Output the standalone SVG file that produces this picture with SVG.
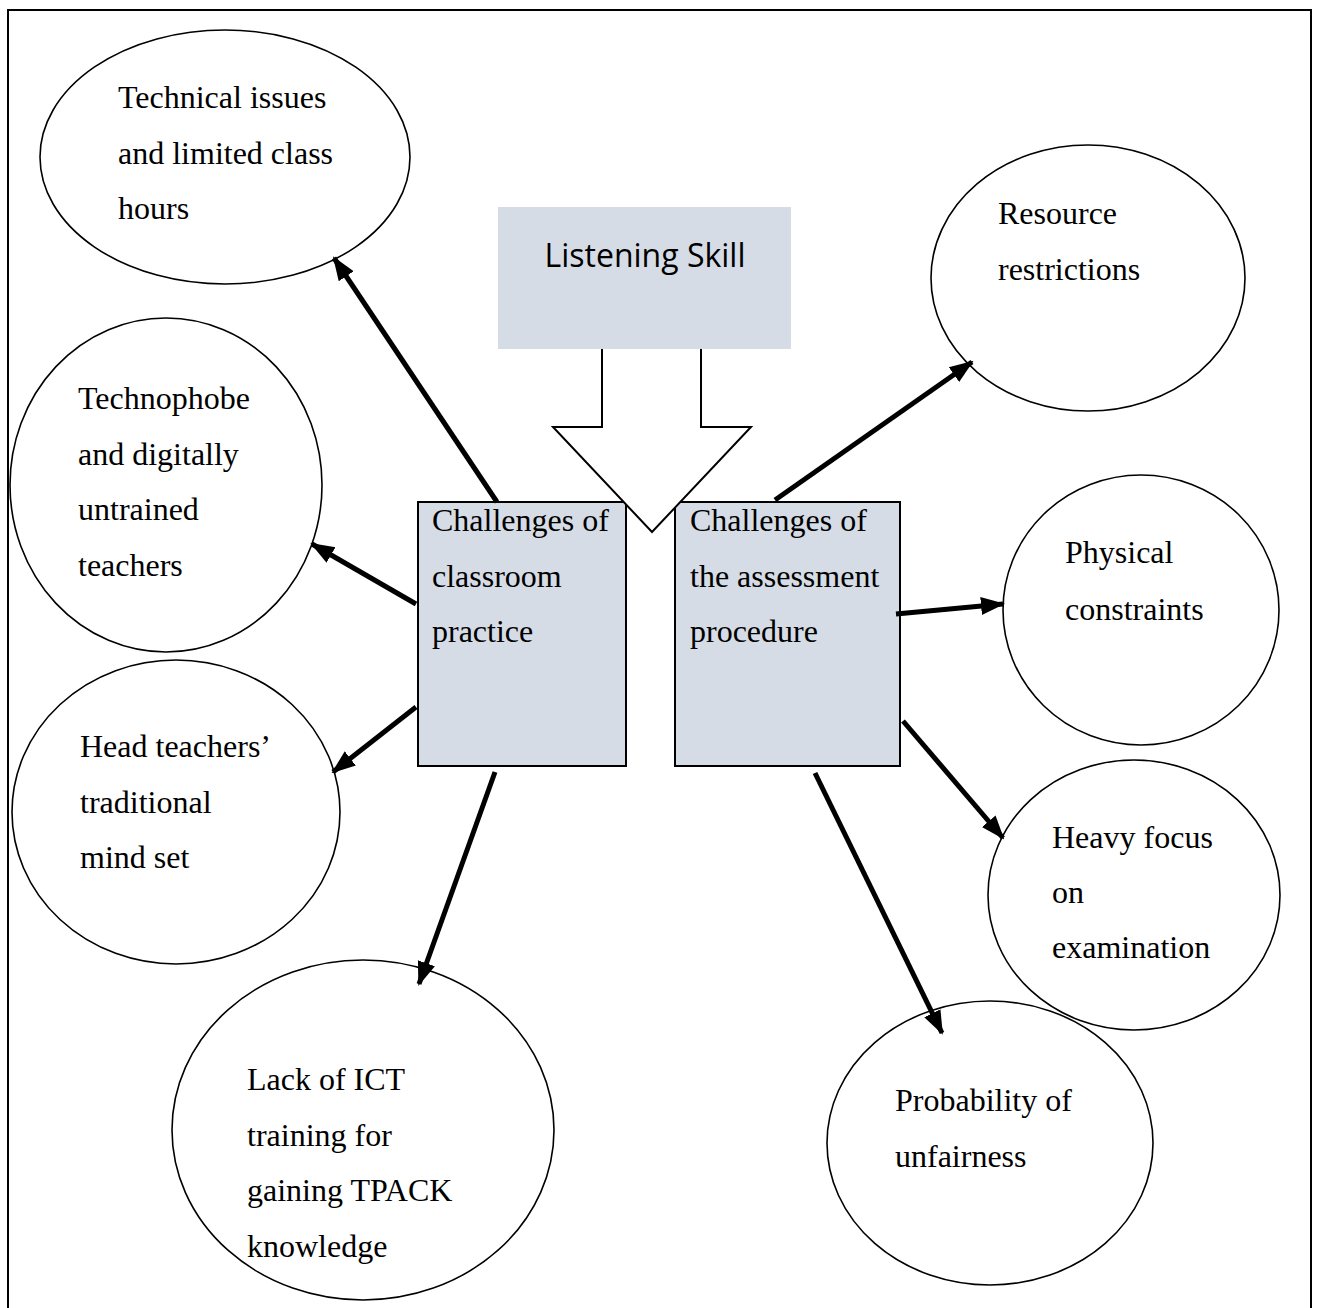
<svg xmlns="http://www.w3.org/2000/svg" width="1317" height="1308" viewBox="0 0 1317 1308">
<style>
.t{font-family:"Liberation Serif","Times New Roman",serif;font-size:32px;fill:#000}
.el{fill:#fff;stroke:#000;stroke-width:1.6}
.box{fill:#d6dce5;stroke:#000;stroke-width:2}
.c{stroke:#000;stroke-width:5;fill:none;marker-end:url(#ah)}
</style>
<defs>
<marker id="ah" markerUnits="userSpaceOnUse" markerWidth="24" markerHeight="20" viewBox="0 0 24 20" refX="22" refY="10" orient="auto">
<path d="M0,1 L24,10 L0,19 Z" fill="#000"/>
</marker>
</defs>
<rect x="8" y="10" width="1303" height="1310" fill="#fff" stroke="#000" stroke-width="2"/>
<g id="nodes">
<g id="n-technical"><ellipse class="el" cx="225" cy="157" rx="185" ry="127"/>
<text class="t" x="118"><tspan x="118" y="108">Technical issues</tspan><tspan x="118" y="164">and limited class</tspan><tspan x="118" y="219">hours</tspan></text></g>
<g id="n-technophobe"><ellipse class="el" cx="166" cy="485" rx="156" ry="167"/>
<text class="t"><tspan x="78" y="409">Technophobe</tspan><tspan x="78" y="465">and digitally</tspan><tspan x="78" y="520">untrained</tspan><tspan x="78" y="576">teachers</tspan></text></g>
<g id="n-head"><ellipse class="el" cx="176" cy="812" rx="164" ry="152"/>
<text class="t"><tspan x="80" y="757">Head teachers’</tspan><tspan x="80" y="813">traditional</tspan><tspan x="80" y="868">mind set</tspan></text></g>
<g id="n-ict"><ellipse class="el" cx="363" cy="1130" rx="191" ry="170"/>
<text class="t"><tspan x="247" y="1090">Lack of ICT</tspan><tspan x="247" y="1146">training for</tspan><tspan x="247" y="1201">gaining TPACK</tspan><tspan x="247" y="1257">knowledge</tspan></text></g>
<g id="n-resource"><ellipse class="el" cx="1088" cy="278" rx="157" ry="133"/>
<text class="t"><tspan x="998" y="224">Resource</tspan><tspan x="998" y="280">restrictions</tspan></text></g>
<g id="n-physical"><ellipse class="el" cx="1141" cy="610" rx="138" ry="135"/>
<text class="t"><tspan x="1065" y="563">Physical</tspan><tspan x="1065" y="620">constraints</tspan></text></g>
<g id="n-heavy"><ellipse class="el" cx="1134" cy="895" rx="146" ry="135"/>
<text class="t"><tspan x="1052" y="848">Heavy focus</tspan><tspan x="1052" y="903">on</tspan><tspan x="1052" y="958">examination</tspan></text></g>
<g id="n-prob"><ellipse class="el" cx="990" cy="1143" rx="163" ry="142"/>
<text class="t"><tspan x="895" y="1111">Probability of</tspan><tspan x="895" y="1167">unfairness</tspan></text></g>
<g id="n-listening"><rect x="498" y="207" width="293" height="142" fill="#d6dce5"/>
<text x="645" y="267" text-anchor="middle" font-family="Open Sans, Liberation Sans, sans-serif" font-size="32" fill="#000">Listening Skill</text></g>
<g id="n-classroom"><rect class="box" x="418" y="502" width="208" height="264"/>
<text class="t"><tspan x="432" y="531">Challenges of</tspan><tspan x="432" y="587">classroom</tspan><tspan x="432" y="642">practice</tspan></text></g>
<g id="n-assessment"><rect class="box" x="675" y="502" width="225" height="264"/>
<text class="t"><tspan x="690" y="531">Challenges of</tspan><tspan x="690" y="587">the assessment</tspan><tspan x="690" y="642">procedure</tspan></text></g>
</g>
<g id="connectors">
<path d="M602,349 L602,427 L553,427 L652,532 L751,427 L701,427 L701,349" fill="#fff" stroke="#000" stroke-width="2" stroke-linejoin="miter"/>
<line class="c" x1="497" y1="502" x2="334" y2="258"/>
<line class="c" x1="416" y1="604" x2="312" y2="544"/>
<line class="c" x1="416" y1="707" x2="333" y2="772"/>
<line class="c" x1="495" y1="772" x2="419" y2="984"/>
<line class="c" x1="775" y1="500" x2="972" y2="362"/>
<line class="c" x1="896" y1="614" x2="1003" y2="604"/>
<line class="c" x1="903" y1="721" x2="1003" y2="838"/>
<line class="c" x1="815" y1="773" x2="942" y2="1033"/>
</g>
</svg>
